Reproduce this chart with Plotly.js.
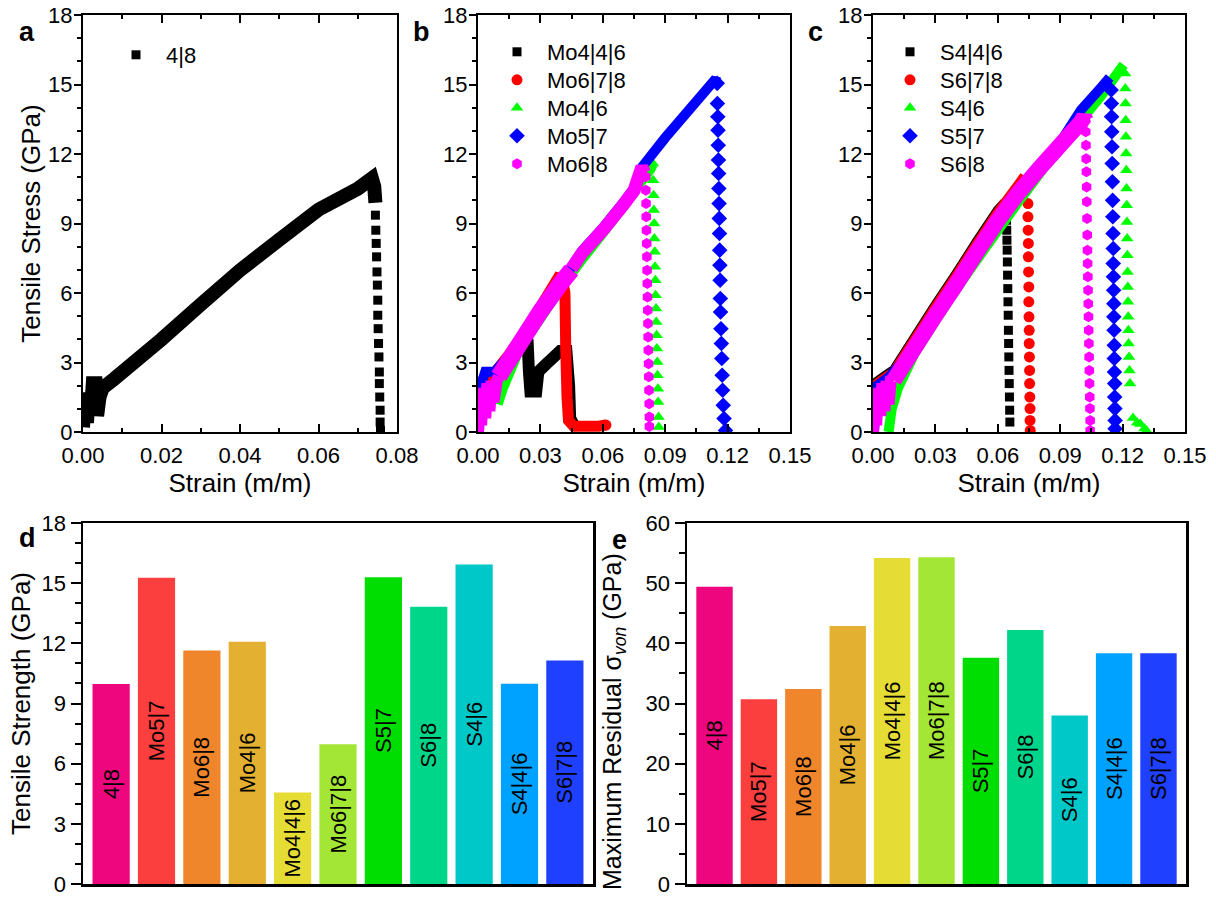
<!DOCTYPE html>
<html><head><meta charset="utf-8">
<script src="https://cdn.plot.ly/plotly-3.0.1.min.js"></script>
<style>html,body{margin:0;padding:0;background:#fff}#chart{width:1216px;height:897px}</style>
</head><body><div id="chart"></div>
<script>
// ===================== DATA =====================
// Panel a : 4|8 (dense band drawn as a thick path, separated points as markers)
const a48LineX = [0.0000,0.0005,0.0010,0.0015,0.0020,0.0025,0.0032,0.0036,0.0042,0.0050,0.0080,0.0200,0.0300,0.0400,0.0500,0.0600,0.0700,0.0736,0.0742,0.0745];
const a48LineY = [0.2,1.5,0.4,1.7,0.8,2.1,2.1,0.7,1.5,1.9,2.3,4.0,5.5,6.98,8.3,9.6,10.5,10.95,10.6,9.9];
const a48PtsX = [0.0745,0.0746,0.0747,0.0748,0.0749,0.0750,0.0751,0.0751,0.0752,0.0753,0.0754,0.0755,0.0755,0.0756,0.0757,0.0757,0.0758];
const a48PtsY = [9.36,8.71,8.14,7.56,6.91,6.34,5.69,5.04,4.46,3.82,3.24,2.59,2.09,1.51,0.94,0.43,0.07];

// Panel b : Mo-doped
const bMo446LineX = [0.0000,0.0010,0.0040,0.0080,0.0150,0.0238,0.0245,0.0252,0.0280,0.0290,0.0330,0.0360,0.0395,0.0425,0.0438,0.0443,0.0460];
const bMo446LineY = [0.5,1.8,2.2,2.4,3.2,4.0,2.6,1.75,1.75,2.6,2.95,3.2,3.5,3.5,2.0,0.6,0.3];
const bMo446PtsX = [0.0445,0.0460];
const bMo446PtsY = [0.8,0.3];
const bMo678LineX = [0.0005,0.0020,0.0080,0.0150,0.0200,0.0300,0.0385,0.0405,0.0418,0.0422,0.0428,0.0435,0.0460,0.0520,0.0580,0.0615];
const bMo678LineY = [1.0,2.2,2.55,3.35,4.0,5.4,6.65,6.6,6.0,3.5,1.5,0.5,0.25,0.25,0.25,0.3];
const bMo678PtsX = [0.0405,0.0615];
const bMo678PtsY = [6.6,0.3];
const bMo46LineX = [0.0095,0.0120,0.0200,0.0300,0.0400,0.0500,0.0600,0.0700,0.0750,0.0830,0.0840];
const bMo46LineY = [1.2,1.9,3.6,4.9,6.25,7.45,8.58,9.75,10.4,11.35,11.55];
const bMo46PtsX = [0.0841,0.0842,0.0844,0.0845,0.0847,0.0848,0.0850,0.0851,0.0853,0.0854,0.0856,0.0857,0.0859,0.0860,0.0862,0.0863,0.0865,0.0866,0.0868,0.0869];
const bMo46PtsY = [11.59,10.87,10.22,9.58,9.0,8.35,7.78,7.13,6.55,5.9,5.33,4.75,4.18,3.6,3.02,2.45,1.87,1.3,0.65,0.22];
const bMo57LineX = [0.0005,0.0010,0.0035,0.0080,0.0200,0.0300,0.0400,0.0500,0.0600,0.0700,0.0750,0.0790,0.0900,0.1000,0.1100,0.1143,0.1148];
const bMo57LineY = [0.0,1.9,2.6,2.6,3.8,5.2,6.45,7.82,8.81,9.92,10.52,11.45,12.7,13.75,14.8,15.25,15.1];
const bMo57PtsX = [0.1150,0.1151,0.1153,0.1154,0.1155,0.1156,0.1157,0.1158,0.1159,0.1160,0.1161,0.1162,0.1163,0.1164,0.1165,0.1166,0.1168,0.1170,0.1172,0.1174,0.1176,0.1179,0.1183,0.1190];
const bMo57PtsY = [15.05,14.18,13.61,13.03,12.38,11.74,11.16,10.51,9.86,9.22,8.57,7.85,7.2,6.55,5.76,5.18,4.46,3.82,3.17,2.45,1.8,1.15,0.58,0.07];
const bMo68StartX = [0.0000,0.0008,0.0015,0.0025,0.0035,0.0045,0.0055,0.0065,0.0075,0.0090,0.0100];
const bMo68StartY = [0.0,1.4,0.3,1.9,0.6,2.1,0.9,2.2,1.3,2.2,2.4];
const bMo68BandX = [0.0100,0.0200,0.0300,0.0400,0.0450];
const bMo68BandY = [2.4,3.8,5.2,6.45,7.0];
const bMo68LineX = [0.0450,0.0500,0.0600,0.0700,0.0750,0.0788,0.0800];
const bMo68LineY = [7.05,7.72,8.71,9.82,10.42,11.45,11.2];
const bMo68PtsX = [0.0806,0.0807,0.0808,0.0809,0.0810,0.0811,0.0812,0.0813,0.0814,0.0815,0.0816,0.0817,0.0818,0.0819,0.0820,0.0821,0.0822,0.0823,0.0824,0.0824];
const bMo68PtsY = [11.02,10.44,9.86,9.29,8.71,8.14,7.57,6.98,6.41,5.83,5.26,4.68,4.1,3.53,2.95,2.38,1.8,1.22,0.65,0.24];

// Panel c : S-doped
const cS446LineX = [0.0000,0.0040,0.0080,0.0100,0.0200,0.0300,0.0400,0.0500,0.0600,0.0613,0.0632,0.0638];
const cS446LineY = [2.05,2.3,2.55,2.67,4.07,5.47,6.82,8.22,9.57,9.7,9.45,9.2];
const cS446PtsX = [0.0642,0.0643,0.0644,0.0645,0.0646,0.0647,0.0648,0.0649,0.0650,0.0651,0.0652,0.0653,0.0654,0.0655,0.0656,0.0657,0.0658];
const cS446PtsY = [9.14,8.71,8.28,7.85,7.34,6.77,6.19,5.62,5.04,4.39,3.82,3.24,2.66,2.09,1.51,0.94,0.43];
const cS678LineX = [0.0000,0.0040,0.0080,0.0100,0.0200,0.0300,0.0400,0.0500,0.0600,0.0700,0.0716,0.0735,0.0742];
const cS678LineY = [1.95,2.2,2.45,2.55,3.95,5.35,6.7,8.1,9.45,10.65,10.85,10.75,10.55];
const cS678PtsX = [0.0744,0.0745,0.0745,0.0746,0.0747,0.0747,0.0748,0.0749,0.0749,0.0750,0.0751,0.0751,0.0752,0.0753,0.0753,0.0754,0.0755,0.0755,0.0756];
const cS678PtsY = [10.58,9.86,9.29,8.71,8.14,7.56,6.91,6.26,5.62,4.97,4.39,3.82,3.24,2.66,2.09,1.51,1.01,0.5,0.07];
const cS46LineX = [0.0075,0.0090,0.0120,0.0200,0.0300,0.0400,0.0500,0.0600,0.0700,0.0800,0.0900,0.1000,0.1100,0.1160,0.1205];
const cS46LineY = [0.0,1.0,1.9,3.4,4.8,6.15,7.45,8.7,9.95,11.15,12.35,13.45,14.55,15.3,15.85];
const cS46PtsX = [0.1212,0.1213,0.1214,0.1215,0.1216,0.1217,0.1218,0.1219,0.1220,0.1221,0.1222,0.1223,0.1224,0.1225,0.1226,0.1227,0.1228,0.1229,0.1231,0.1233,0.1236,0.1250,0.1270,0.1285,0.1305,0.1315];
const cS46PtsY = [15.48,14.83,14.18,13.46,12.74,12.02,11.3,10.51,9.79,9.07,8.35,7.63,6.91,6.26,5.62,4.97,4.39,3.82,3.24,2.66,2.09,0.6,0.4,0.35,0.15,0.05];
const cS57LineX = [0.0005,0.0020,0.0080,0.0200,0.0300,0.0400,0.0500,0.0600,0.0700,0.0800,0.0900,0.1000,0.1100,0.1138];
const cS57LineY = [0.0,2.0,2.4,3.6,5.0,6.35,7.75,9.1,10.3,11.35,12.5,13.9,14.9,15.3];
const cS57PtsX = [0.1145,0.1146,0.1147,0.1148,0.1149,0.1150,0.1151,0.1152,0.1153,0.1154,0.1155,0.1155,0.1156,0.1157,0.1158,0.1158,0.1159,0.1160,0.1160,0.1161,0.1162,0.1162,0.1163,0.1164,0.1164];
const cS57PtsY = [14.76,14.18,13.61,12.96,12.31,11.59,10.8,10.0,9.29,8.57,7.92,7.27,6.7,6.12,5.54,4.97,4.39,3.74,3.17,2.59,2.09,1.51,1.01,0.5,0.14];
const cS68StartX = [0.0000,0.0008,0.0015,0.0025,0.0035,0.0045,0.0055,0.0065,0.0075,0.0085,0.0100];
const cS68StartY = [0.0,1.4,0.3,1.9,0.7,2.1,0.9,2.2,1.2,2.2,2.23];
const cS68BandX = [0.0100,0.0200,0.0300,0.0400,0.0500,0.0600,0.0700,0.0800,0.0900,0.1000,0.1015,0.1022];
const cS68BandY = [2.23,3.63,5.03,6.38,7.78,9.13,10.33,11.38,12.38,13.38,13.6,13.45];
const cS68PtsX = [0.1022,0.1023,0.1024,0.1025,0.1026,0.1027,0.1028,0.1029,0.1030,0.1031,0.1032,0.1033,0.1034,0.1035,0.1036,0.1037,0.1038,0.1039,0.1040,0.1041,0.1042,0.1043,0.1044,0.1044];
const cS68PtsY = [13.46,12.96,12.38,11.8,11.23,10.58,9.94,9.22,8.5,7.85,7.27,6.7,6.12,5.54,4.97,4.39,3.82,3.24,2.66,2.09,1.51,1.01,0.5,0.07];

// Panels d & e : bar charts
const barNames = ['4|8','Mo5|7','Mo6|8','Mo4|6','Mo4|4|6','Mo6|7|8','S5|7','S6|8','S4|6','S4|4|6','S6|7|8'];
const tensileStrength = [9.97,15.27,11.64,12.08,4.56,6.97,15.30,13.83,15.93,9.98,11.14];
const maxResidualVon = [49.4,30.7,32.4,42.9,54.2,54.3,37.6,42.2,28.0,38.35,38.35];
const barColors = ['#EE067F','#FB3E3E','#EF862B','#E4B032','#E5DD35','#A4E635','#00DD00','#00D68A','#00C8C8','#00A2FF','#2040FF'];

const seriesColors = {black:'#000000', red:'#FF0000', green:'#00FF00', blue:'#0000FF', magenta:'#FF00FF'};

// ===================== BUILD =====================
const FONT = 'Liberation Sans, Arial, Helvetica, sans-serif';
function lineTr(x, y, color, width, xa, ya) {
  return {type:'scatter', mode:'lines', x:x, y:y, xaxis:xa, yaxis:ya,
          line:{color:color, width:width, simplify:false}, showlegend:false, hoverinfo:'skip'};
}
function ptsTr(name, x, y, color, symbol, size, xa, ya, leg) {
  return {type:'scatter', mode:'markers', name:name, x:x, y:y, xaxis:xa, yaxis:ya,
          marker:{color:color, symbol:symbol, size:size, line:{width:0}}, legend:leg, hoverinfo:'skip'};
}
const C = seriesColors;
const traces = [
  lineTr(a48LineX, a48LineY, C.black, 14, 'x', 'y'),
  ptsTr('4|8', a48PtsX, a48PtsY, C.black, 'square', 9, 'x', 'y', 'legend'),

  lineTr(bMo446LineX, bMo446LineY, C.black, 12, 'x2', 'y2'),
  ptsTr('Mo4|4|6', bMo446PtsX, bMo446PtsY, C.black, 'square', 9, 'x2', 'y2', 'legend2'),
  lineTr(bMo678LineX, bMo678LineY, C.red, 11, 'x2', 'y2'),
  ptsTr('Mo6|7|8', bMo678PtsX, bMo678PtsY, C.red, 'circle', 11, 'x2', 'y2', 'legend3'),
  lineTr(bMo46LineX, bMo46LineY, C.green, 10, 'x2', 'y2'),
  ptsTr('Mo4|6', bMo46PtsX, bMo46PtsY, C.green, 'triangle-up', 11, 'x2', 'y2', 'legend4'),
  lineTr(bMo57LineX, bMo57LineY, C.blue, 10, 'x2', 'y2'),
  ptsTr('Mo5|7', bMo57PtsX, bMo57PtsY, C.blue, 'diamond', 12, 'x2', 'y2', 'legend5'),
  lineTr(bMo68StartX, bMo68StartY, C.magenta, 12, 'x2', 'y2'),
  lineTr(bMo68BandX, bMo68BandY, C.magenta, 17, 'x2', 'y2'),
  lineTr(bMo68LineX, bMo68LineY, C.magenta, 13, 'x2', 'y2'),
  ptsTr('Mo6|8', bMo68PtsX, bMo68PtsY, C.magenta, 'hexagon', 11, 'x2', 'y2', 'legend6'),

  lineTr(cS446LineX, cS446LineY, C.black, 10, 'x3', 'y3'),
  ptsTr('S4|4|6', cS446PtsX, cS446PtsY, C.black, 'square', 9, 'x3', 'y3', 'legend7'),
  lineTr(cS678LineX, cS678LineY, C.red, 11, 'x3', 'y3'),
  ptsTr('S6|7|8', cS678PtsX, cS678PtsY, C.red, 'circle', 11, 'x3', 'y3', 'legend8'),
  lineTr(cS46LineX, cS46LineY, C.green, 10, 'x3', 'y3'),
  ptsTr('S4|6', cS46PtsX, cS46PtsY, C.green, 'triangle-up', 11, 'x3', 'y3', 'legend9'),
  lineTr(cS57LineX, cS57LineY, C.blue, 10, 'x3', 'y3'),
  ptsTr('S5|7', cS57PtsX, cS57PtsY, C.blue, 'diamond', 12, 'x3', 'y3', 'legend10'),
  lineTr(cS68StartX, cS68StartY, C.magenta, 12, 'x3', 'y3'),
  lineTr(cS68BandX, cS68BandY, C.magenta, 16, 'x3', 'y3'),
  ptsTr('S6|8', cS68PtsX, cS68PtsY, C.magenta, 'hexagon', 11, 'x3', 'y3', 'legend11'),

  {type:'bar', x:barNames, y:tensileStrength, xaxis:'x4', yaxis:'y4', width:0.82,
   marker:{color:barColors, line:{width:0}}, text:barNames, textposition:'inside',
   insidetextanchor:'middle', textangle:-90, constraintext:'none',
   textfont:{family:FONT, size:22, color:'#000'}, showlegend:false, hoverinfo:'skip'},
  {type:'bar', x:barNames, y:maxResidualVon, xaxis:'x5', yaxis:'y5', width:0.82,
   marker:{color:barColors, line:{width:0}}, text:barNames, textposition:'inside',
   insidetextanchor:'middle', textangle:-90, constraintext:'none',
   textfont:{family:FONT, size:22, color:'#000'}, showlegend:false, hoverinfo:'skip'}
];

const W = 1216, H = 897;
const px = v => v / W, py = v => 1 - v / H;
const tickFont = {family:FONT, size:22, color:'#000'};
const titleFont = {family:FONT, size:26, color:'#000'};

function strainAxis(d0, d1, anchor, maxv, dt, mdt) {
  return {domain:[px(d0), px(d1)], anchor:anchor, range:[0, maxv], dtick:dt, tick0:0, tickformat:'.2f',
    showline:true, linecolor:'#000', linewidth:2, mirror:'allticks', showgrid:false, zeroline:false,
    ticks:'inside', ticklen:8, tickwidth:2, tickcolor:'#000', tickfont:tickFont, ticklabelstandoff:3,
    ticklabeloverflow:'allow',
    minor:{dtick:mdt, tick0:0, ticks:'inside', ticklen:4, tickwidth:2, tickcolor:'#000'},
    title:{text:'Strain (m/m)', font:titleFont, standoff:0}};
}
function stressAxis(anchor, title) {
  const ax = {domain:[1 - 432/H, 1 - 15/H], anchor:anchor, range:[0, 18], dtick:3, tick0:0,
    showline:true, linecolor:'#000', linewidth:2, mirror:true, showgrid:false, zeroline:false,
    ticks:'outside', ticklen:7, tickwidth:2, tickcolor:'#000', tickfont:tickFont,
    ticklabelstandoff:-3, ticklabeloverflow:'allow',
    minor:{dtick:1, tick0:0, ticks:'outside', ticklen:4, tickwidth:2, tickcolor:'#000'}};
  if (title) ax.title = {text:title, font:titleFont, standoff:0};
  return ax;
}
function rightTicks(over, anchor) {
  return {overlaying:over, side:'right', anchor:anchor, range:[0, 18], dtick:3, tick0:0,
    showline:false, showgrid:false, zeroline:false, showticklabels:false,
    ticks:'inside', ticklen:7, tickwidth:2, tickcolor:'#000',
    minor:{dtick:1, tick0:0, ticks:'inside', ticklen:4, tickwidth:2, tickcolor:'#000'}};
}
const barTop = 523, barBottom = 884;
function barX(d0, d1, anchor) {
  return {domain:[px(d0), px(d1)], anchor:anchor, type:'category', range:[-0.62, 10.62],
    showline:true, linecolor:'#000', linewidth:2.5, mirror:true, showgrid:false, zeroline:false,
    ticks:'', showticklabels:false};
}
function barY(anchor, maxv, dt, mdt, title) {
  const ax = {domain:[1 - barBottom/H, 1 - barTop/H], anchor:anchor, range:[0, maxv], dtick:dt, tick0:0,
    showline:true, linecolor:'#000', linewidth:2.5, mirror:true, showgrid:false, zeroline:false,
    ticks:'outside', ticklen:10, tickwidth:2, tickcolor:'#000', tickfont:tickFont, ticklabeloverflow:'allow',
    minor:{dtick:mdt, tick0:0, ticks:'outside', ticklen:6, tickwidth:2, tickcolor:'#000'}};
  if (title) ax.title = {text:title, font:titleFont, standoff:4};
  return ax;
}
function legendAt(xp, yc) {
  return {x:px(xp), y:py(yc), xanchor:'left', yanchor:'middle', bgcolor:'rgba(0,0,0,0)', borderwidth:0,
    font:{family:FONT, size:22, color:'#000'}, itemsizing:'trace', itemwidth:50, tracegroupgap:0};
}
function letter(t, x, y) {
  return {text:'<b>' + t + '</b>', xref:'paper', yref:'paper', x:px(x), y:py(y), showarrow:false,
    xanchor:'center', yanchor:'middle', font:{family:FONT, size:27, color:'#000'}};
}

const layout = {
  width:W, height:H, margin:{l:0, r:0, t:0, b:0}, paper_bgcolor:'#fff', plot_bgcolor:'#fff',
  font:{family:FONT, color:'#000'},
  xaxis: strainAxis(83, 397, 'y', 0.08, 0.02, 0.01),
  yaxis: stressAxis('x', 'Tensile Stress (GPa)'),
  xaxis2: strainAxis(478, 790, 'y2', 0.15, 0.03, 0.015),
  yaxis2: stressAxis('x2', null),
  xaxis3: strainAxis(873, 1185, 'y3', 0.15, 0.03, 0.015),
  yaxis3: stressAxis('x3', null),
  yaxis6: rightTicks('y', 'x'),
  yaxis7: rightTicks('y2', 'x2'),
  yaxis8: rightTicks('y3', 'x3'),
  xaxis4: barX(83, 593, 'y4'),
  yaxis4: barY('x4', 18, 3, 1, 'Tensile Strength (GPa)'),
  xaxis5: barX(687, 1186, 'y5'),
  yaxis5: barY('x5', 60, 10, 5, null),
  legend: legendAt(106, 55),
  legend2: legendAt(487, 52),
  legend3: legendAt(487, 80),
  legend4: legendAt(487, 108),
  legend5: legendAt(487, 136),
  legend6: legendAt(487, 164),
  legend7: legendAt(880, 52),
  legend8: legendAt(880, 80),
  legend9: legendAt(880, 108),
  legend10: legendAt(880, 136),
  legend11: legendAt(880, 164),
  annotations:[letter('a', 27, 32), letter('b', 421, 32), letter('c', 815, 32), letter('d', 27, 538), letter('e', 619, 540),
    {text:'Maximum Residual σ<sub><i>von</i></sub> (GPa)', xref:'paper', yref:'paper', x:px(614), y:py(722),
     textangle:-90, showarrow:false, xanchor:'center', yanchor:'middle', font:{family:FONT, size:25, color:'#000'}}]
};

Plotly.newPlot('chart', traces, layout, {staticPlot:true, displayModeBar:false});
</script></body></html>
